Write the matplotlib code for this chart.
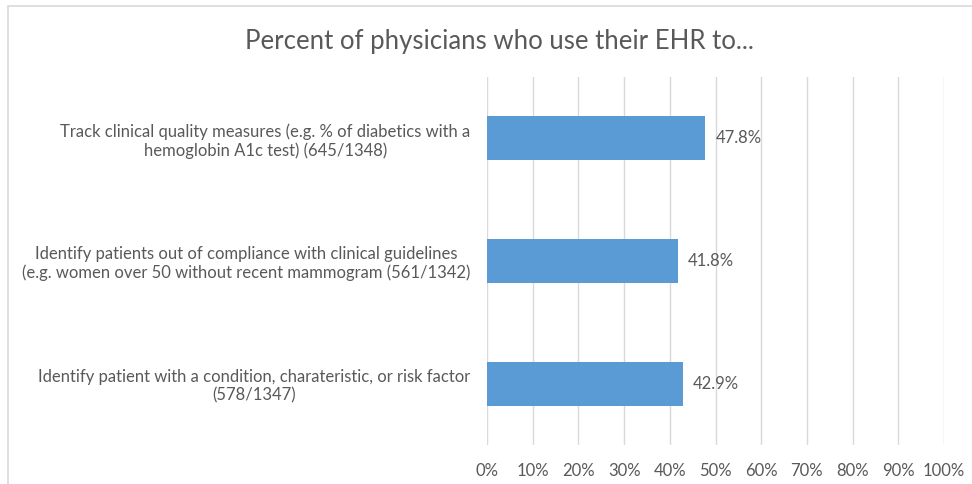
import matplotlib.pyplot as plt
from matplotlib.patches import Rectangle
from matplotlib.ticker import FuncFormatter, MultipleLocator

categories = [
    "Track clinical quality measures (e.g. % of diabetics with a\nhemoglobin A1c test) (645/1348)",
    "Identify patients out of compliance with clinical guidelines\n(e.g. women over 50 without recent mammogram (561/1342)",
    "Identify patient with a condition, charateristic, or risk factor\n(578/1347)",
]
values = [47.8, 41.8, 42.9]
value_labels = ["47.8%", "41.8%", "42.9%"]

W, H = 972, 484
TEXT = "#595959"
BAR = "#5B9BD5"
GRID = "#D9D9D9"

plt.rcParams["font.family"] = ["Lato", "DejaVu Sans"]

fig = plt.figure(figsize=(W / 100, H / 100), dpi=100)

# chart border (light gray box, cut off at right/bottom)
fig.patches.append(Rectangle((8 / W, -0.1), 1.2, 1.1 - 6 / H, transform=fig.transFigure,
                             fill=False, edgecolor=GRID, linewidth=1.2))

x0, x1 = 487, 944
y0, y1 = 77, 445
ax = fig.add_axes([x0 / W, 1 - y1 / H, (x1 - x0) / W, (y1 - y0) / H])

pos = list(range(len(categories)))
ax.barh(pos, values, height=0.36, color=BAR, zorder=2)
for p, v, lab in zip(pos, values, value_labels):
    ax.text(v + 2.2, p, lab, va="center", ha="left", fontsize=12, color=TEXT)

ax.set_xlim(0, 100)
ax.set_ylim(len(categories) - 0.5, -0.5)
ax.xaxis.set_major_locator(MultipleLocator(10))
ax.xaxis.set_major_formatter(FuncFormatter(lambda v, _: f"{v:.0f}%"))
ax.grid(axis="x", color=GRID, linewidth=1, zorder=0)
for s in ax.spines.values():
    s.set_visible(False)
ax.tick_params(axis="x", length=0, pad=13, labelsize=12, labelcolor=TEXT)
ax.tick_params(axis="y", length=0, pad=12, labelsize=12, labelcolor=TEXT)
ax.set_yticks(pos)
ax.set_yticklabels(categories, multialignment="center")

fig.text(499 / W, 1 - 42 / H, "Percent of physicians who use their EHR to...",
         ha="center", va="center", fontsize=18.5, color=TEXT)

fig.savefig("out.png", dpi=100)
